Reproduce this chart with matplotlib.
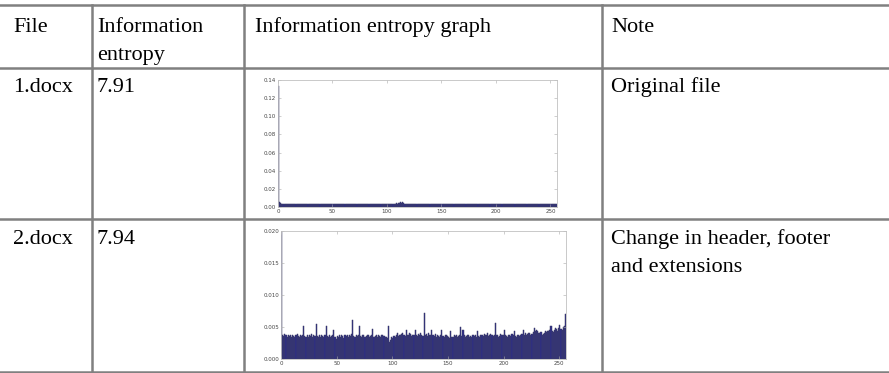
"""
Table of two .docx files with their byte-frequency histograms
(information entropy graph) embedded in the third column.
"""

import matplotlib
matplotlib.use("Agg")
import matplotlib.pyplot as plt
import numpy as np
from matplotlib.lines import Line2D

W, H = 889, 373

# table text
headers = ["File", "Information\nentropy", "Information entropy graph", "Note"]
files = ["1.docx", "2.docx"]
entropies = ["7.91", "7.94"]
notes = ["Original file", "Change in header, footer\nand extensions"]

# byte value histograms, relative frequency in units of 1e-4 (bins 0..255)
doc1_freq_e4 = [
    1330, 55, 45, 38, 32, 30, 33, 29, 31, 30, 28, 32, 30, 29, 31, 33,
    30, 28, 31, 34, 30, 29, 32, 30, 31, 28, 30, 33, 29, 31, 30, 32,
    30, 29, 31, 28, 30, 32, 33, 29, 30, 31, 28, 30, 29, 31, 30, 28,
    31, 30, 33, 29, 30, 32, 35, 31, 30, 28, 31, 33, 30, 29, 31, 30,
    32, 29, 30, 31, 28, 30, 33, 31, 29, 30, 32, 30, 28, 31, 30, 29,
    31, 30, 29, 32, 30, 28, 31, 33, 30, 29, 31, 30, 28, 30, 32, 29,
    30, 31, 28, 30, 29, 32, 34, 31, 36, 33, 38, 35, 42, 38, 46, 40,
    52, 45, 50, 42, 38, 34, 31, 30, 29, 31, 30, 28, 31, 30, 29, 32,
    30, 31, 33, 30, 29, 31, 28, 30, 32, 30, 29, 31, 30, 33, 29, 30,
    31, 28, 30, 32, 29, 31, 30, 28, 31, 30, 29, 32, 30, 31, 28, 30,
    29, 31, 30, 28, 32, 30, 29, 31, 30, 28, 31, 30, 29, 32, 30, 31,
    28, 30, 29, 31, 30, 33, 29, 30, 31, 28, 30, 32, 29, 31, 30, 29,
    31, 30, 32, 28, 30, 29, 31, 30, 33, 29, 30, 31, 28, 30, 29, 32,
    30, 31, 29, 30, 28, 31, 30, 32, 29, 30, 31, 28, 30, 29, 31, 30,
    29, 31, 30, 28, 32, 30, 29, 31, 30, 33, 29, 30, 28, 31, 30, 29,
    31, 30, 29, 32, 30, 28, 31, 30, 29, 31, 30, 28, 32, 30, 29, 31,
]
doc2_freq_e4 = [
    205, 38, 36, 39, 37, 35, 38, 36, 37, 34, 38, 36, 35, 37, 39, 36,
    35, 38, 36, 37, 52, 36, 35, 38, 34, 37, 36, 39, 35, 37, 36, 54,
    36, 35, 38, 34, 37, 36, 35, 38, 51, 36, 34, 37, 35, 36, 38, 46,
    35, 32, 36, 34, 37, 35, 38, 36, 33, 37, 36, 38, 35, 37, 36, 39,
    61, 36, 35, 38, 36, 37, 51, 36, 34, 37, 38, 35, 36, 37, 38, 35,
    36, 37, 47, 35, 36, 38, 34, 37, 36, 35, 37, 38, 36, 35, 34, 33,
    52, 27, 29, 34, 33, 36, 35, 38, 41, 36, 37, 38, 39, 40, 37, 36,
    46, 38, 37, 40, 39, 36, 38, 37, 46, 38, 36, 39, 37, 40, 38, 36,
    72, 37, 39, 36, 40, 38, 37, 46, 38, 36, 39, 35, 37, 36, 34, 37,
    45, 36, 35, 38, 37, 36, 34, 33, 44, 35, 34, 37, 36, 38, 35, 36,
    38, 50, 36, 45, 37, 35, 36, 37, 38, 34, 36, 35, 37, 36, 38, 35,
    44, 36, 35, 37, 38, 36, 39, 37, 38, 40, 36, 37, 39, 38, 36, 37,
    56, 37, 38, 35, 36, 39, 37, 38, 45, 38, 36, 35, 37, 38, 36, 39,
    38, 43, 36, 35, 37, 38, 36, 37, 39, 45, 37, 40, 38, 39, 41, 40,
    38, 39, 42, 48, 44, 46, 43, 41, 40, 42, 38, 39, 41, 43, 42, 44,
    43, 45, 51, 44, 42, 46, 48, 47, 44, 49, 53, 47, 46, 50, 52, 70,
]
y_limits = [0.14, 0.020]
y_steps = [0.02, 0.005]
y_fmt = ["{:.2f}", "{:.3f}"]
x_ticks = [0, 50, 100, 150, 200, 250]

LINE = "#808080"
BAR = "#2c2c88"
SERIF = "Liberation Serif"
LINE_STEP = 28  # px between text lines inside a cell


def fx(px):
    return px / W


def fy(py):
    return 1 - py / H


def hline(fig, y, x0=0, x1=W):
    fig.add_artist(Line2D([fx(x0), fx(x1)], [fy(y), fy(y)], color=LINE, lw=1.8))


def vline(fig, x, y0, y1):
    fig.add_artist(Line2D([fx(x), fx(x)], [fy(y0), fy(y1)], color=LINE, lw=1.8))


def put_text(fig, x, y, s):
    # one fig.text per line so every baseline sits where the reference has it
    for k, line in enumerate(s.split("\n")):
        fig.text(fx(x), fy(y + k * LINE_STEP), line, family=SERIF, fontsize=16,
                 va="baseline", ha="left")


fig = plt.figure(figsize=(W / 100, H / 100), dpi=100)

# table grid
row_lines = [4.5, 67.5, 219, 371.5]
for y in row_lines:
    hline(fig, y)
for x in [91.5, 244, 602]:
    vline(fig, x, row_lines[0], row_lines[-1])

# cell text left edges, one per column
col_x = [13, 97, 255, 611]

# header
for x, s in zip(col_x, headers):
    put_text(fig, x, 32, s)

# rows
row_base = [92, 244]
for i in range(2):
    put_text(fig, col_x[0], row_base[i], files[i])
    put_text(fig, col_x[1], row_base[i], entropies[i])
    put_text(fig, col_x[3], row_base[i], notes[i])

# embedded histograms: (left, top, right, bottom) in pixels
boxes = [(278, 80, 557, 207), (281, 231, 566, 359)]
series = [doc1_freq_e4, doc2_freq_e4]
for box, vals, ymax, step, fmt in zip(boxes, series, y_limits, y_steps, y_fmt):
    l, t, r, b = box
    ax = fig.add_axes([fx(l), fy(b), (r - l) / W, (b - t) / H])
    v = np.asarray(vals) * 1e-4
    ax.bar(np.arange(len(v)), v, width=1.0, align="edge", color=BAR,
           edgecolor="#3c3c66", linewidth=0.35)
    ax.set_xlim(0, 256)
    ax.set_ylim(0, ymax)
    yt = np.arange(0, ymax + step / 2, step)
    ax.set_yticks(yt)
    ax.set_yticklabels([fmt.format(y) for y in yt])
    ax.set_xticks(x_ticks)
    ax.tick_params(direction="in", length=2, width=0.4, top=True, right=True,
                   color="#aaaaaa", labelcolor="#444444", labelsize=4, pad=1.5)
    for sp in ax.spines.values():
        sp.set_color("#c0c0c0")
        sp.set_linewidth(0.6)

fig.savefig("out.png", dpi=100)
